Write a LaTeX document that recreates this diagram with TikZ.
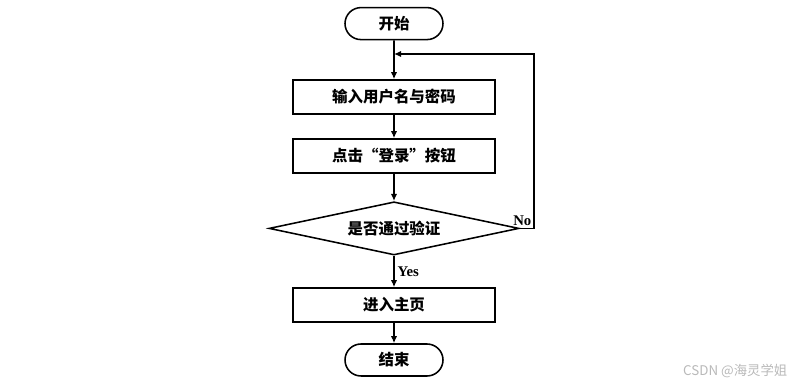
\documentclass[tikz,border=0pt]{standalone}
\usepackage{fontspec}
\newfontfamily\cjk{Noto Sans CJK SC}
\newfontfamily\latinserif{Liberation Serif}
\usetikzlibrary{positioning, arrows.meta, shapes.geometric, shapes.misc}

\begin{document}
\begin{tikzpicture}[
  font=\cjk\bfseries\fontsize{11}{13}\selectfont,
  line width=1.1pt,
  term/.style={draw, rounded rectangle, minimum width=2.45cm, minimum height=0.8cm, inner sep=0pt},
  proc/.style={draw, rectangle, minimum width=5.05cm, minimum height=0.85cm, inner sep=0pt},
  decide/.style={draw, diamond, aspect=4.7, minimum width=6.25cm, minimum height=1.33cm, inner sep=0pt},
  flow/.style={-{Latex[length=5pt, width=4.5pt]}},
  branch/.style={font=\latinserif\bfseries\fontsize{10.5}{12}\selectfont, inner sep=2pt},
  credittext/.style={font=\cjk\fontsize{9.5}{11}\selectfont, text=gray!55}
]

% keep the reference margins
\useasboundingbox (0,0) rectangle (19.975,-9.625);

% main column, top to bottom
\node[term]   (start)  at (9.85, -0.59)  {开始};
\node[proc]   (input)  at (9.85, -2.425) {输入用户名与密码};
\node[proc]   (click)  at (9.85, -3.9)   {点击“登录”按钮};
\node[decide] (check)  at (9.85, -5.71)  {是否通过验证};
\node[proc]   (home)   at (9.85, -7.625) {进入主页};
\node[term]   (finish) at (9.85, -9.0)   {结束};

\draw[flow] (start) -- (input);
\draw[flow] (input) -- (click);
\draw[flow] (click) -- (check);
\draw[flow] (check) -- node[branch, right] {Yes} (home);
\draw[flow] (home) -- (finish);

% failed check goes back above the input box
\coordinate (rejoin) at (9.85, -1.35);
\draw[flow] (check.east) -- ++(0.36, 0) coordinate (turn) |- (rejoin);
\node[branch, anchor=south east, inner sep=1.5pt] (no) at (turn) {No};

% watermark
\node[credittext] (credit) at (18.38, -9.28) {CSDN @海灵学姐};

\end{tikzpicture}
\end{document}
